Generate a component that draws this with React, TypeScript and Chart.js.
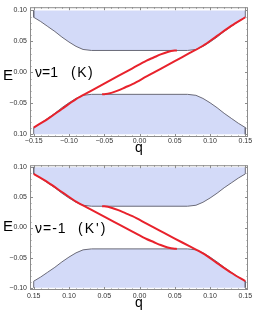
import { useEffect, useRef } from "react";
import { Chart, registerables } from "chart.js";

Chart.register(...registerables);

// ---------- data ----------
const xTicks = [-0.15, -0.1, -0.05, 0, 0.05, 0.1, 0.15];
const yTicks = [-0.1, -0.05, 0, 0.05, 0.1];
const xTickLabelsTop = ["\u22120.15", "\u22120.10", "\u22120.05", "0.00", "0.05", "0.10", "0.15"];
const yTickLabelsTop = ["0.10", "\u22120.05", "0.00", "0.05", "0.10"];
const xTickLabelsBottom = ["0.15", "0.10", "0.05", "0.00", "0.05", "0.10", "0.15"];
const yTickLabelsBottom = ["\u22120.10", "\u22120.05", "0.00", "0.05", "0.10"];

// continuum band edges (same in both panels)
const bandQ = [-0.15, -0.15, -0.14, -0.13, -0.12, -0.11, -0.1, -0.09, -0.08, -0.068, 0.068, 0.08, 0.09, 0.1, 0.11, 0.12, 0.13, 0.14, 0.15, 0.15];
const upperBandE = [0.1, 0.089, 0.082, 0.074, 0.066, 0.057, 0.049, 0.042, 0.037, 0.0354, 0.0354, 0.037, 0.042, 0.049, 0.057, 0.066, 0.074, 0.082, 0.089, 0.1];
const lowerBandE = [-0.1, -0.089, -0.082, -0.074, -0.066, -0.057, -0.049, -0.042, -0.037, -0.0354, -0.0354, -0.037, -0.042, -0.049, -0.057, -0.066, -0.074, -0.082, -0.089, -0.1];

// nu = 1 (K) edge states
const topLongQ = [-0.15, -0.13, -0.11, -0.09, -0.07, -0.05, -0.03, -0.01, 0.01, 0.02, 0.03, 0.04, 0.05, 0.053];
const topLongE = [-0.089, -0.075, -0.059, -0.043, -0.0306, -0.0182, -0.0058, 0.0066, 0.019, 0.024, 0.029, 0.033, 0.0352, 0.0354];
const topShortQ = [-0.053, -0.05, -0.04, -0.03, -0.02, -0.01, 0.01, 0.03, 0.05, 0.07, 0.09, 0.11, 0.13, 0.15];
const topShortE = [-0.0354, -0.0352, -0.033, -0.029, -0.024, -0.019, -0.0066, 0.0058, 0.0182, 0.0306, 0.043, 0.059, 0.075, 0.089];

// nu = -1 (K') edge states
const botLongQ = [-0.15, -0.13, -0.11, -0.09, -0.07, -0.05, -0.03, -0.01, 0.01, 0.02, 0.03, 0.04, 0.05, 0.053];
const botLongE = [0.089, 0.075, 0.059, 0.043, 0.0306, 0.0182, 0.0058, -0.0066, -0.019, -0.024, -0.029, -0.033, -0.0352, -0.0354];
const botShortQ = [-0.053, -0.05, -0.04, -0.03, -0.02, -0.01, 0.01, 0.03, 0.05, 0.07, 0.09, 0.11, 0.13, 0.15];
const botShortE = [0.0354, 0.0352, 0.033, 0.029, 0.024, 0.019, 0.0066, -0.0058, -0.0182, -0.0306, -0.043, -0.059, -0.075, -0.089];

// ---------- styling ----------
const FONT = "'Liberation Sans', Arial, sans-serif";
const RED = "#e8222c";
const BAND_FILL = "#d3daf8";
const BAND_EDGE = "#6a6a78";

const pts = (xs: number[], ys: number[]) => xs.map((x, i) => ({ x, y: ys[i] }));

type PanelCfg = {
  height: number;
  padTop: number;
  xAxisHeight: number;
  xTickPad: number;
  titlePadBottom: number;
  yMin: number;
  yMax: number;
  xLabels: string[];
  yLabels: string[];
  longQ: number[];
  longE: number[];
  shortQ: number[];
  shortE: number[];
  label1: string;
  label2: string;
  label2X: number;
  labelBaseline: number;
  eBaseline: number;
  spacing1: number;
  spacing2: number;
};

const panels: PanelCfg[] = [
  {
    height: 158,
    padTop: 4,
    xAxisHeight: 21,
    xTickPad: 0,
    titlePadBottom: 1,
    yMin: -0.10425,
    yMax: 0.1052,
    xLabels: xTickLabelsTop,
    yLabels: yTickLabelsTop,
    longQ: topLongQ,
    longE: topLongE,
    shortQ: topShortQ,
    shortE: topShortE,
    label1: "\u03bd=1",
    label2: "(K)",
    label2X: 71,
    labelBaseline: 77,
    eBaseline: 80,
    spacing1: 0,
    spacing2: 1.5,
  },
  {
    height: 157,
    padTop: 1.5,
    xAxisHeight: 25,
    xTickPad: 2,
    titlePadBottom: 3,
    yMin: -0.10365,
    yMax: 0.1035,
    xLabels: xTickLabelsBottom,
    yLabels: yTickLabelsBottom,
    longQ: botLongQ,
    longE: botLongE,
    shortQ: botShortQ,
    shortE: botShortE,
    label1: "\u03bd=-1",
    label2: "(K')",
    label2X: 78,
    labelBaseline: 75,
    eBaseline: 73,
    spacing1: 1,
    spacing2: 2,
  },
];

const makeDecor = (p: PanelCfg) => ({
  id: "decor",
  afterDraw(chart: any) {
    const { ctx, chartArea: a, scales } = chart;
    const x = scales.x;
    const y = scales.y;
    ctx.save();
    // frame
    ctx.strokeStyle = "#8c8c8c";
    ctx.lineWidth = 1;
    ctx.strokeRect(a.left + 0.5, a.top + 0.5, a.right - a.left - 1, a.bottom - a.top - 1);
    // ticks (inward)
    ctx.beginPath();
    for (let i = -15; i <= 15; i++) {
      const v = i / 100;
      const px = Math.round(x.getPixelForValue(v)) + 0.5;
      const len = i % 5 === 0 ? 3 : 1.5;
      ctx.moveTo(px, a.bottom);
      ctx.lineTo(px, a.bottom - len);
      ctx.moveTo(px, a.top);
      ctx.lineTo(px, a.top + len);
    }
    for (let i = -10; i <= 10; i++) {
      const v = i / 100;
      const py = Math.round(y.getPixelForValue(v)) + 0.5;
      const len = i % 5 === 0 ? 3 : 1.5;
      ctx.moveTo(a.left, py);
      ctx.lineTo(a.left + len, py);
      ctx.moveTo(a.right, py);
      ctx.lineTo(a.right - len, py);
    }
    ctx.stroke();
    // texts
    ctx.fillStyle = "#000";
    ctx.textBaseline = "alphabetic";
    ctx.textAlign = "left";
    ctx.font = `15px ${FONT}`;
    ctx.fillText("E", 3, p.eBaseline);
    ctx.font = `14px ${FONT}`;
    (ctx as any).letterSpacing = `${p.spacing1}px`;
    ctx.fillText(p.label1, 35, p.labelBaseline);
    (ctx as any).letterSpacing = `${p.spacing2}px`;
    ctx.fillText(p.label2, p.label2X, p.labelBaseline);
    (ctx as any).letterSpacing = "0px";
    ctx.restore();
  },
});

function Panel({ p }: { p: PanelCfg }) {
  const ref = useRef<HTMLCanvasElement>(null);
  useEffect(() => {
    if (!ref.current) return;
    const chart = new Chart(ref.current, {
      type: "scatter",
      data: {
        datasets: [
          {
            data: pts(p.longQ, p.longE),
            showLine: true,
            borderColor: RED,
            borderWidth: 2,
            pointRadius: 0,
            cubicInterpolationMode: "monotone",
            fill: false,
            order: 0,
          },
          {
            data: pts(p.shortQ, p.shortE),
            showLine: true,
            borderColor: RED,
            borderWidth: 2,
            pointRadius: 0,
            cubicInterpolationMode: "monotone",
            fill: false,
            order: 0,
          },
          {
            data: pts(bandQ, upperBandE),
            showLine: true,
            borderColor: BAND_EDGE,
            borderWidth: 1,
            backgroundColor: BAND_FILL,
            pointRadius: 0,
            tension: 0,
            fill: { value: 0.1 },
            order: 2,
          },
          {
            data: pts(bandQ, lowerBandE),
            showLine: true,
            borderColor: BAND_EDGE,
            borderWidth: 1,
            backgroundColor: BAND_FILL,
            pointRadius: 0,
            tension: 0,
            fill: { value: -0.1 },
            order: 2,
          },
        ],
      } as any,
      options: {
        animation: false,
        responsive: false,
        devicePixelRatio: 1,
        events: [],
        layout: { padding: { top: p.padTop, right: 8, left: 0, bottom: 0 } },
        plugins: { legend: { display: false }, tooltip: { enabled: false } },
        scales: {
          x: {
            type: "linear",
            min: -0.15525,
            max: 0.15383,
            grid: { display: false, drawTicks: false },
            border: { display: false },
            afterBuildTicks: (s: any) => {
              s.ticks = xTicks.map((v) => ({ value: v }));
            },
            afterFit: (s: any) => {
              s.height = p.xAxisHeight;
            },
            ticks: {
              autoSkip: false,
              maxRotation: 0,
              padding: p.xTickPad,
              color: "#333",
              font: { family: FONT, size: 7 },
              callback: (_v: any, i: number) => p.xLabels[i],
            },
            title: {
              display: true,
              text: "q",
              color: "#000",
              font: { family: FONT, size: 14 },
              padding: { top: 0, bottom: p.titlePadBottom },
            },
          },
          y: {
            type: "linear",
            min: p.yMin,
            max: p.yMax,
            grid: { display: false, drawTicks: false },
            border: { display: false },
            afterBuildTicks: (s: any) => {
              s.ticks = yTicks.map((v) => ({ value: v }));
            },
            afterFit: (s: any) => {
              s.width = 30;
            },
            ticks: {
              autoSkip: false,
              padding: 3,
              color: "#333",
              font: { family: FONT, size: 7 },
              callback: (_v: any, i: number) => p.yLabels[i],
            },
          },
        },
      } as any,
      plugins: [makeDecor(p)],
    });
    return () => chart.destroy();
  }, [p]);
  return <canvas ref={ref} width={256} height={p.height} style={{ display: "block", width: 256, height: p.height }} />;
}

export default function App() {
  return (
    <div style={{ position: "absolute", left: 0, top: 0, width: 256, height: 315, background: "#fff" }}>
      <Panel p={panels[0]} />
      <Panel p={panels[1]} />
    </div>
  );
}
